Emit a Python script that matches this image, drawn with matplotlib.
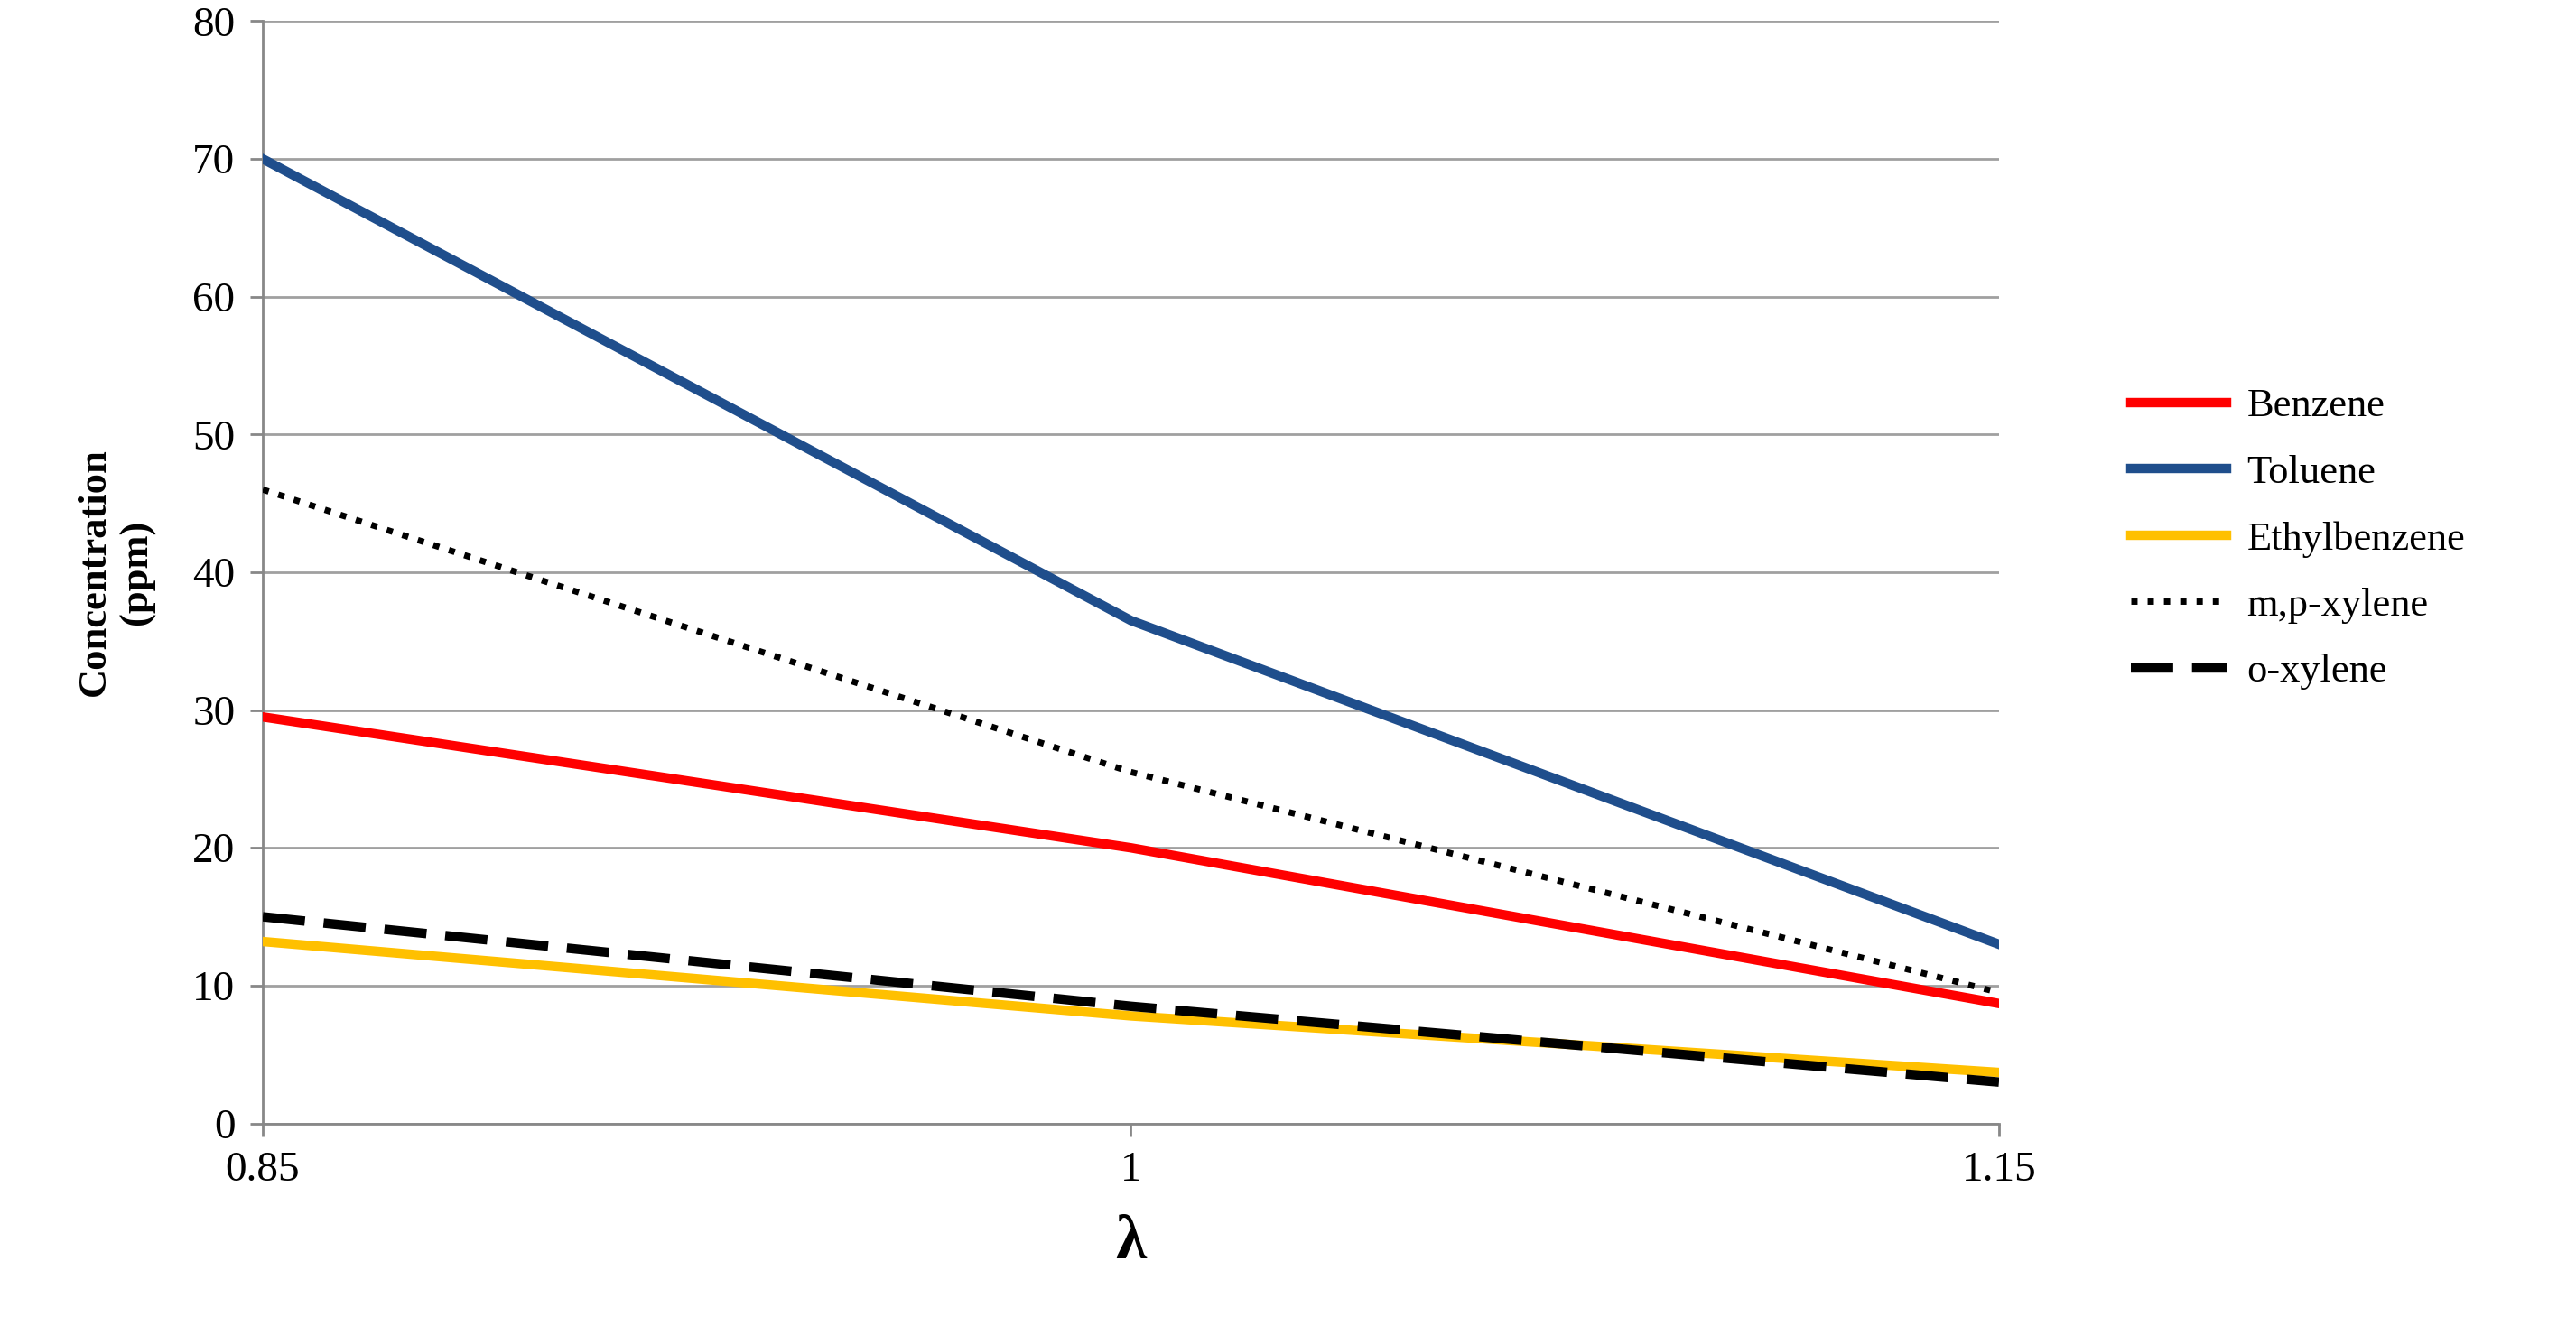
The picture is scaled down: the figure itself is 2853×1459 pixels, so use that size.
import matplotlib
matplotlib.use("Agg")
import matplotlib.pyplot as plt

lam = [0.85, 1.0, 1.15]
xticklabels = ["0.85", "1", "1.15"]
benzene = [29.5, 20.0, 8.7]
toluene = [70.0, 36.5, 13.0]
ethylbenzene = [13.2, 7.8, 3.7]
mp_xylene = [46.0, 25.5, 9.5]
o_xylene = [15.0, 8.5, 3.0]

plt.rcParams['font.family'] = ['Liberation Serif', 'DejaVu Serif']
fig = plt.figure(figsize=(28.53, 14.59), dpi=100)
ax = fig.add_axes([0.102, 0.147, 0.674, 0.837])

lw = 7.5
ax.plot(lam, benzene, color="#ff0000", lw=lw, label="Benzene", zorder=3)
ax.plot(lam, toluene, color="#1f4e8c", lw=lw, label="Toluene", zorder=3)
ax.plot(lam, ethylbenzene, color="#ffc000", lw=lw, label="Ethylbenzene", zorder=3)
ax.plot(lam, mp_xylene, color="black", lw=5, ls=(0, (1, 1.6)), label="m,p-xylene", zorder=4)
ax.plot(lam, o_xylene, color="black", lw=lw, ls=(0, (4.5, 2)), label="o-xylene", zorder=4)

ax.set_xlim(0.85, 1.15)
ax.set_ylim(0, 80)
ax.set_yticks(range(0, 81, 10))
ax.set_xticks(lam)
ax.set_xticklabels(xticklabels)
ax.yaxis.grid(True, color="#a0a0a0", lw=2)
ax.set_axisbelow(True)
for s in ["top", "right"]:
    ax.spines[s].set_visible(False)
for s in ["left", "bottom"]:
    ax.spines[s].set_color("#888888")
    ax.spines[s].set_linewidth(2)
ax.tick_params(labelsize=34, length=10, color="#888888", width=2, pad=12)
ax.set_ylabel("Concentration\n(ppm)", fontsize=32, fontweight="bold", labelpad=30)
ax.set_xlabel("λ", fontsize=50, fontweight="bold", labelpad=20)

leg = ax.legend(loc="center left", bbox_to_anchor=(1.055, 0.53), frameon=False,
                fontsize=32, handlelength=2.4, labelspacing=0.75, handletextpad=0.5)
fig.savefig("out.png", dpi=100)
